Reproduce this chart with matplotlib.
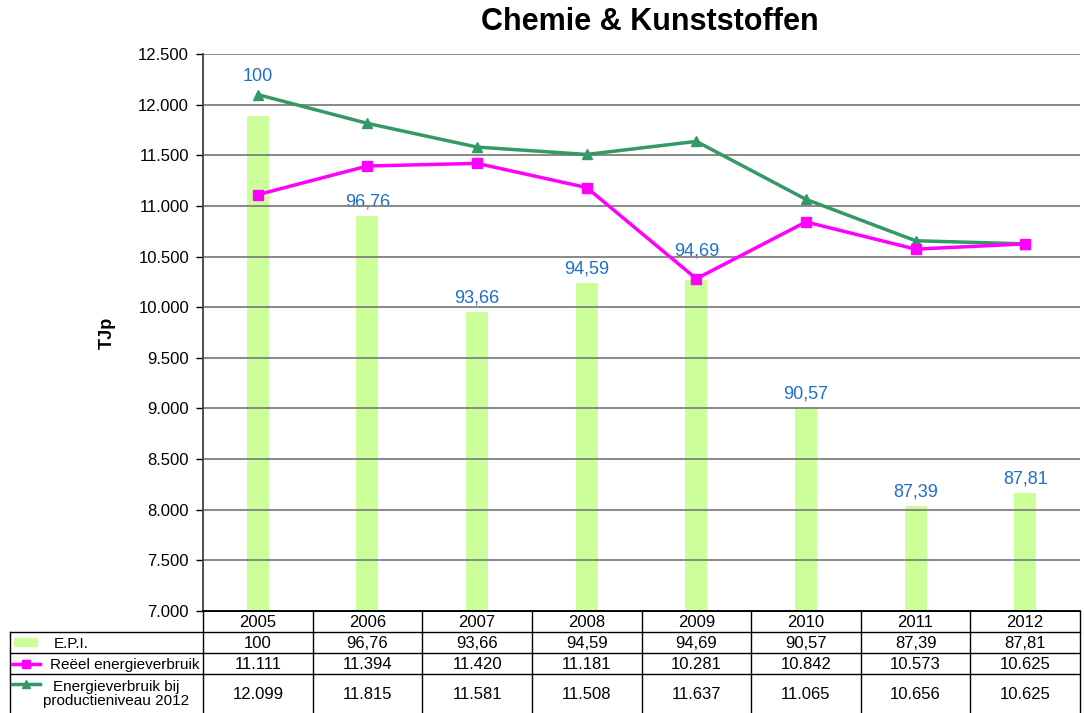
import matplotlib
matplotlib.use("Agg")
import matplotlib.pyplot as plt
from matplotlib.ticker import FuncFormatter, MultipleLocator
from matplotlib.patches import Rectangle

plt.rcParams['font.family'] = ['Liberation Sans', 'DejaVu Sans']

years = ['2005', '2006', '2007', '2008', '2009', '2010', '2011', '2012']
epi = [100, 96.76, 93.66, 94.59, 94.69, 90.57, 87.39, 87.81]
reeel = [11111, 11394, 11420, 11181, 10281, 10842, 10573, 10625]
prod2012 = [12099, 11815, 11581, 11508, 11637, 11065, 10656, 10625]

BAR_COLOR = '#CCFF99'
MAG = '#FF00FF'
GREEN = '#339966'
BLUE = '#1F6FC8'

W, H = 1084, 713
fig = plt.figure(figsize=(W / 100, H / 100), dpi=100)

# plot area in pixels
L, R, T, B = 203, 1080, 54, 611
ax = fig.add_axes([L / W, 1 - B / H, (R - L) / W, (B - T) / H])
ax2 = ax.twinx()
ax.set_zorder(ax2.get_zorder() + 1)
ax.patch.set_visible(False)

x = list(range(len(years)))
ax2.bar(x, epi, width=0.2, color=BAR_COLOR, zorder=2)
ax2.set_ylim(84, 102)
ax2.set_yticks([])
for s in ax2.spines.values():
    s.set_visible(False)

# label offsets in points (to keep labels clear of the lines)
label_off = [22, 4, 4, 4, 15, 4, 4, 4]
for i, v in enumerate(epi):
    ax2.annotate(f'{v:g}'.replace('.', ','), (i, v), xytext=(0, label_off[i]),
                 textcoords='offset points', ha='center', va='bottom',
                 fontsize=13, color=BLUE)

ax.plot(x, prod2012, color=GREEN, lw=2.5, marker='^', ms=7, zorder=4)
ax.plot(x, reeel, color=MAG, lw=2.5, marker='s', ms=6.5, zorder=5)

ax.set_xlim(-0.5, len(years) - 0.5)
ax.set_ylim(7000, 12500)
ax.yaxis.set_major_locator(MultipleLocator(500))
ax.yaxis.set_major_formatter(FuncFormatter(lambda v, p: f'{int(v):,}'.replace(',', '.')))
ax.grid(axis='y', color='#808080', lw=1.3, zorder=0)
ax.set_axisbelow(True)
ax.tick_params(axis='y', labelsize=12, length=5, width=1, direction='out', pad=5)
ax.tick_params(axis='x', bottom=False, labelbottom=False)
for side in ['top', 'right']:
    ax.spines[side].set_visible(False)
ax.spines['left'].set_color('#404040')
ax.spines['left'].set_linewidth(1.3)
ax.spines['bottom'].set_linewidth(1.3)
ax.set_ylabel('TJp', fontsize=13, fontweight='bold', labelpad=16)

fig.text(650 / W, 1 - 22 / H, 'Chemie & Kunststoffen', ha='center', va='center',
         fontsize=22, fontweight='bold')

# data table drawn in pixel coordinates
tab = fig.add_axes([0, 0, 1, 1 - B / H])
tab.set_xlim(0, W)
tab.set_ylim(H, B)
tab.axis('off')
rows_y = [B, 632, 653, 674, H]
LX = 10
cw = (R - L) / len(years)
lc = 'black'
tab.plot([L, R], [B, B], color=lc, lw=1.3)
for yy in rows_y[1:4]:
    tab.plot([LX, R], [yy, yy], color=lc, lw=1)
tab.plot([LX, LX], [rows_y[1], H], color=lc, lw=1)
for i in range(len(years) + 1):
    tab.plot([L + i * cw] * 2, [B, H], color=lc, lw=1)

fs = 12
for i, yr in enumerate(years):
    cx = L + (i + 0.5) * cw
    tab.text(cx, (rows_y[0] + rows_y[1]) / 2 + 1, yr, ha='center', va='center', fontsize=fs)
    tab.text(cx, (rows_y[1] + rows_y[2]) / 2 + 1, f'{epi[i]:g}'.replace('.', ','),
             ha='center', va='center', fontsize=fs)
    tab.text(cx, (rows_y[2] + rows_y[3]) / 2 + 1, f'{reeel[i]:,}'.replace(',', '.'),
             ha='center', va='center', fontsize=fs)
    tab.text(cx, (rows_y[3] + rows_y[4]) / 2 + 1, f'{prod2012[i]:,}'.replace(',', '.'),
             ha='center', va='center', fontsize=fs)

# row labels with legend keys
fl = 11
y1 = (rows_y[1] + rows_y[2]) / 2
tab.add_patch(Rectangle((14, y1 - 4), 23, 8, color=BAR_COLOR))
tab.text(54, y1 + 1, 'E.P.I.', ha='left', va='center', fontsize=fl)
y2 = (rows_y[2] + rows_y[3]) / 2
tab.plot([12, 40], [y2, y2], color=MAG, lw=2.5)
tab.plot([26], [y2], color=MAG, marker='s', ms=6)
tab.text(50, y2 + 1, 'Reëel energieverbruik', ha='left', va='center', fontsize=fl)
y3 = (rows_y[3] + rows_y[4]) / 2
tab.plot([12, 40], [684, 684], color=GREEN, lw=2.5)
tab.plot([26], [684], color=GREEN, marker='^', ms=6)
tab.text(116, y3 + 1, 'Energieverbruik bij\nproductieniveau 2012', ha='center', va='center',
         fontsize=fl, linespacing=1.0)

fig.savefig('out.png', dpi=100)
